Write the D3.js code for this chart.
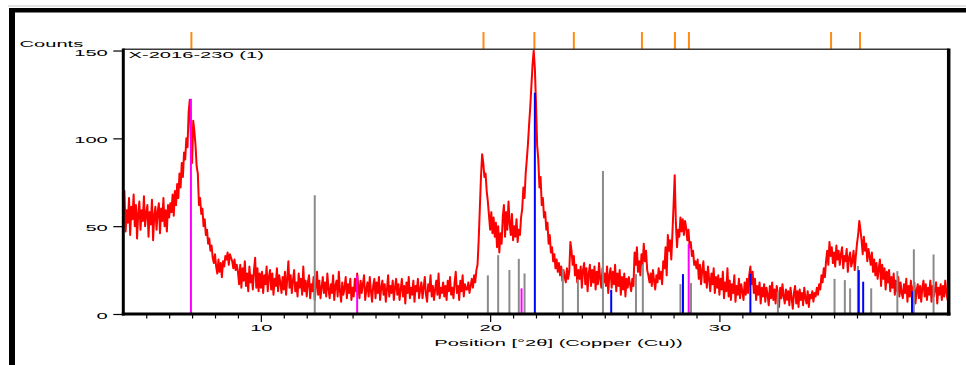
<!DOCTYPE html>
<html>
<head>
<meta charset="utf-8">
<script src="https://cdnjs.cloudflare.com/ajax/libs/d3/7.8.5/d3.min.js"></script>
<style>
  body { margin: 0; background: #fff; }
  svg { display: block; }
  text { font-family: "Liberation Sans", Arial, sans-serif; font-size: 9.5px; fill: #000; }
</style>
</head>
<body>
<script>
// scan: 4.00 .. 40.00 deg 2theta, 0.05 deg step
var scanStart = 4
var scanStep = 0.05
var counts = [
  64, 70, 47, 59, 52, 66, 45, 61, 54, 68, 50, 62, 43, 57, 64, 48, 59, 53, 67, 50,
  57, 62, 44, 58, 51, 65, 42, 56, 61, 48, 58, 63, 46, 60, 53, 66, 50, 59, 47, 62,
  55, 63, 58, 68, 56, 70, 62, 74, 66, 80, 72, 86, 78, 92, 88, 100, 95, 115, 122, 100,
  86, 110, 104, 96, 84, 80, 62, 66, 57, 60, 50, 54, 45, 48, 40, 43, 36, 39, 32, 29,
  34, 27, 23, 31, 24, 29, 21, 30, 27, 33, 31, 35, 28, 34, 32, 30, 26, 31, 25, 28,
  24, 17, 28, 15, 26, 19, 30, 16, 23, 13, 27, 18, 22, 14, 25, 32, 15, 26, 13, 23,
  15, 24, 12, 22, 17, 27, 13, 21, 25, 14, 23, 11, 20, 16, 26, 13, 22, 18, 12, 21,
  14, 24, 11, 20, 30, 15, 22, 12, 19, 25, 13, 18, 10, 23, 15, 20, 11, 27, 13, 19,
  10, 18, 22, 9, 17, 13, 21, 8, 16, 24, 11, 19, 9, 15, 21, 12, 18, 10, 23, 14,
  9, 17, 12, 22, 8, 16, 19, 10, 24, 13, 7, 18, 11, 15, 21, 9, 17, 12, 20, 8,
  15, 10, 20, 13, 23, 16, 9, 19, 12, 17, 22, 8, 14, 18, 10, 21, 13, 7, 16, 20,
  9, 18, 12, 21, 8, 15, 19, 11, 17, 7, 14, 22, 10, 16, 12, 19, 8, 15, 20, 11,
  17, 8, 14, 20, 10, 16, 6, 18, 12, 21, 9, 15, 11, 19, 7, 16, 13, 20, 9, 14,
  18, 9, 15, 21, 11, 7, 17, 13, 22, 10, 16, 8, 14, 19, 11, 23, 9, 15, 12, 18,
  10, 16, 8, 19, 13, 21, 11, 15, 9, 18, 24, 12, 16, 8, 19, 13, 22, 10, 17, 14,
  14, 18, 12, 16, 20, 15, 22, 18, 25, 28, 42, 60, 78, 91, 86, 78, 80, 70, 64, 56,
  48, 58, 46, 55, 44, 52, 38, 50, 35, 46, 40, 55, 62, 44, 58, 48, 64, 52, 45, 57,
  42, 50, 44, 54, 41, 48, 45, 55, 60, 72, 66, 80, 88, 97, 108, 118, 130, 142, 150, 140,
  120, 96, 88, 72, 78, 62, 66, 55, 58, 48, 52, 40, 45, 35, 38, 30, 34, 26, 31, 24,
  29, 22, 27, 19, 25, 21, 18, 26, 20, 24, 41, 36, 28, 33, 22, 28, 18, 25, 20, 27,
  15, 25, 29, 17, 26, 13, 23, 28, 16, 25, 18, 27, 14, 24, 17, 29, 20, 15, 26, 18,
  23, 16, 27, 12, 22, 26, 15, 24, 17, 28, 13, 23, 16, 25, 11, 21, 14, 23, 10, 20,
  15, 21, 17, 13, 20, 16, 35, 28, 38, 24, 30, 22, 34, 28, 40, 30, 36, 25, 22, 18,
  23, 16, 25, 19, 14, 22, 18, 26, 20, 24, 17, 30, 26, 38, 22, 45, 36, 42, 31, 46,
  62, 79, 52, 38, 48, 44, 55, 47, 54, 45, 53, 49, 42, 48, 38, 41, 33, 36, 28, 30,
  26, 31, 20, 28, 17, 25, 30, 18, 24, 15, 27, 20, 13, 23, 17, 26, 12, 21, 15, 22,
  11, 20, 14, 24, 9, 18, 13, 26, 10, 19, 8, 17, 12, 22, 7, 16, 11, 20, 9, 17,
  13, 8, 18, 11, 20, 12, 22, 27, 17, 24, 12, 20, 8, 16, 11, 18, 6, 15, 10, 17,
  7, 15, 11, 5, 16, 9, 18, 8, 14, 6, 16, 11, 4, 15, 9, 17, 10, 6, 14, 8,
  13, 5, 15, 9, 3, 12, 16, 6, 13, 4, 14, 8, 12, 5, 15, 9, 6, 13, 4, 11,
  9, 13, 7, 12, 10, 15, 11, 17, 14, 22, 18, 26, 21, 30, 36, 28, 41, 33, 38, 29,
  35, 27, 39, 31, 36, 28, 34, 38, 26, 33, 30, 37, 24, 32, 35, 27, 30, 36, 25, 33,
  40, 45, 53, 48, 42, 34, 44, 36, 40, 30, 37, 33, 28, 35, 24, 31, 22, 29, 20, 26,
  31, 16, 28, 20, 26, 14, 24, 18, 25, 13, 21, 15, 23, 11, 19, 13, 21, 10, 18, 12,
  9, 17, 12, 20, 7, 16, 10, 19, 8, 15, 18, 6, 13, 17, 9, 16, 7, 15, 19, 10,
  17, 8, 15, 11, 19, 7, 16, 10, 14, 18, 6, 15, 11, 17, 8, 16, 10, 19, 12, 8,
  14
]

// reference patterns: [position, relative height in counts]
var refGray = [
  [12.35, 67.6], [19.90, 22], [20.35, 33.5], [20.84, 25], [21.25, 31.4], [21.50, 23.1],
  [23.17, 25.4], [23.83, 19.7], [24.92, 81.4], [26.36, 22.7], [26.66, 28.4], [28.30, 17],
  [28.76, 17.6], [32.55, 12.7], [35.02, 20], [35.47, 19.3], [35.70, 14.6], [36.04, 27.3],
  [36.62, 14.6], [37.76, 24.4], [38.48, 36.8], [39.34, 33.9], [39.97, 15]
]
var refBlue = [
  [21.95, 126], [25.28, 13.8], [28.41, 22.7], [31.35, 23], [36.08, 25], [36.27, 18.4], [38.40, 13]
]
var refMagenta = [
  [6.95, 122.5], [14.20, 22], [21.37, 14.6], [28.66, 39.8]
]
// peak list markers
var peakPos = [6.97, 19.71, 21.93, 23.65, 26.62, 28.06, 28.67, 34.87, 36.13]

var xMajor = [10, 20, 30]
var xMinor = d3.range(5, 40).filter(function (d) { return d % 10 })
var yTicks = [0, 50, 100, 150]

var sampleName = 'X-2016-230 (1)'
var yTitle = 'Counts'
var xTitle = 'Position [°2θ] (Copper (Cu))'

var w = 966
  , h = 365
  , stretch = 2.12   // labels are printed wide

var x = d3.scaleLinear().domain([4, 40]).range([123.3, 948.7])
var y = d3.scaleLinear().domain([0, 150.7]).range([314, 49.3])

var svg = d3.select('body').append('svg').attr('width', w).attr('height', h)

// page frame
svg.append('line').attr('x1', 8).attr('x2', w).attr('y1', 6).attr('y2', 6)
   .attr('stroke', '#c8c8c8').attr('stroke-width', 1)
svg.append('line').attr('x1', 9).attr('x2', w).attr('y1', 10.3).attr('y2', 10.3)
   .attr('stroke', '#000').attr('stroke-width', 4.6)
svg.append('line').attr('x1', 12).attr('x2', 12).attr('y1', 8).attr('y2', h)
   .attr('stroke', '#000').attr('stroke-width', 6)

// peak markers above the plot
svg.append('g').selectAll('line').data(peakPos)
   .enter().append('line')
   .attr('x1', x).attr('x2', x)
   .attr('y1', 32).attr('y2', 49)
   .attr('stroke', '#ff8c12').attr('stroke-width', 2)

// measured scan
var line = d3.line()
  .x(function (d, i) { return x(scanStart + i * scanStep) })
  .y(function (d) { return y(d) })

svg.append('path').datum(counts)
   .attr('d', line)
   .attr('fill', 'none')
   .attr('stroke', '#ff0000')
   .attr('stroke-width', 2)
   .attr('stroke-linejoin', 'round')

function sticks (data, color) {
  svg.append('g').selectAll('line').data(data)
     .enter().append('line')
     .attr('x1', function (d) { return x(d[0]) })
     .attr('x2', function (d) { return x(d[0]) })
     .attr('y1', y(0))
     .attr('y2', function (d) { return y(d[1]) })
     .attr('stroke', color)
     .attr('stroke-width', 2)
}
sticks(refGray, '#8a8a8a')
sticks(refMagenta, '#ff00ff')
sticks(refBlue, '#0000ff')

// axes
var gx = svg.append('g').attr('transform', 'translate(0,' + y(0) + ')')
gx.call(d3.axisBottom(x).tickValues(xMinor).tickSize(4.5).tickSizeOuter(0).tickFormat(''))
gx.select('.domain').remove()
var gxm = svg.append('g').attr('transform', 'translate(0,' + y(0) + ')')
gxm.call(d3.axisBottom(x).tickValues(xMajor).tickSize(8).tickSizeOuter(0).tickFormat(d3.format('d')))
gxm.select('.domain').remove()

var gy = svg.append('g').attr('transform', 'translate(' + x(4) + ',0)')
gy.call(d3.axisLeft(y).tickValues(yTicks).tickSize(10).tickSizeOuter(0))
gy.select('.domain').remove()

svg.selectAll('.tick line').attr('stroke', '#000').attr('stroke-width', 1.2)

gxm.selectAll('.tick text')
   .attr('y', 0).attr('dy', null)
   .attr('font-size', null).attr('font-family', null)
   .attr('transform', 'translate(0,16.7) scale(' + stretch + ',1)')
gy.selectAll('.tick text')
   .attr('x', 0).attr('dy', null)
   .attr('font-size', null).attr('font-family', null)
   .attr('transform', 'translate(-15.5,4.5) scale(' + stretch + ',1)')

// plot frame
svg.append('line').attr('x1', x(4)).attr('x2', x(40)).attr('y1', y.range()[1]).attr('y2', y.range()[1])
   .attr('stroke', '#3a3a3a').attr('stroke-width', 1.4)
svg.append('line').attr('x1', x(4)).attr('x2', x(4)).attr('y1', y.range()[1] - 0.7).attr('y2', y(0) + 1.5)
   .attr('stroke', '#000').attr('stroke-width', 3)
svg.append('line').attr('x1', x(40)).attr('x2', x(40)).attr('y1', y.range()[1] - 0.7).attr('y2', y(0) + 1.5)
   .attr('stroke', '#000').attr('stroke-width', 3.5)
svg.append('line').attr('x1', x(4) - 1.5).attr('x2', x(40) + 1.7).attr('y1', y(0)).attr('y2', y(0))
   .attr('stroke', '#000').attr('stroke-width', 3)

// labels
function label (txt, tx, ty, anchor) {
  svg.append('text')
     .attr('transform', 'translate(' + tx + ',' + ty + ') scale(' + stretch + ',1)')
     .attr('text-anchor', anchor)
     .text(txt)
}
label(yTitle, 19.5, 47.3, 'start')
label(sampleName, 128.5, 58.3, 'start')
label(xTitle, 558.5, 345.7, 'middle')
</script>
</body>
</html>
